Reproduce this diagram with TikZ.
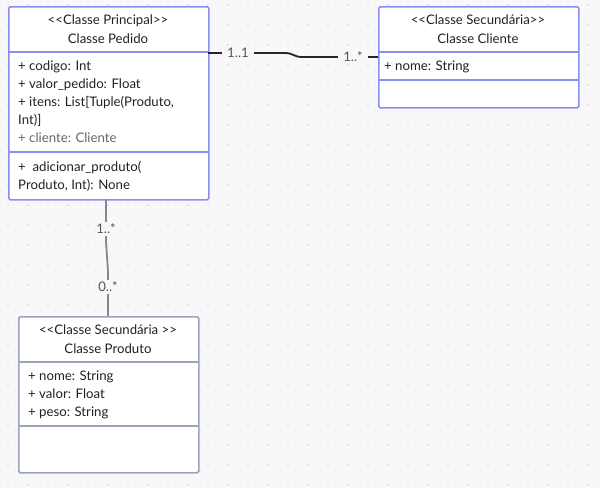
\documentclass[tikz,border=0pt]{standalone}
\usepackage{fontspec}
\setmainfont{Lato}
\definecolor{bg}{HTML}{F8F8FA}
\definecolor{dotc}{HTML}{D6D6DC}
\definecolor{mainb}{HTML}{8A8EF0}
\definecolor{secb}{HTML}{9AA4BC}
\definecolor{txt}{HTML}{222222}
\definecolor{faint}{HTML}{666666}
\definecolor{lbl}{HTML}{555555}
\definecolor{grayline}{HTML}{888888}
\tikzset{
  box/.style={draw, line width=1.6pt, fill=white, rounded corners=1.5pt, inner sep=0pt, anchor=north west},
  divider/.style={line width=1.6pt},
  hdr/.style={align=center, font=\fontsize{13.2}{18.5}\selectfont, text=txt, inner sep=0pt},
  attr/.style={align=left, anchor=north west, font=\fontsize{13.2}{18}\selectfont, text=txt, inner sep=0pt},
  mult/.style={fill=bg, text=lbl, font=\fontsize{13.2}{15}\selectfont, inner xsep=5pt, inner ysep=2pt},
  conn/.style={line width=1.8pt},
}
\begin{document}
\begin{tikzpicture}[x=1pt,y=-1pt]
\fill[bg] (0,0) rectangle (600,488);
\useasboundingbox (0,0) rectangle (600,488);
\foreach \i in {8,28,...,588}{\foreach \j in {5,25,...,485}{\fill[dotc] (\i,\j) circle (0.9);}}
% Pedido
\node[box, draw=mainb, minimum width=200pt, minimum height=193pt] (pedido) at (8,6) {};
\draw[divider, mainb] (8,52) -- (208,52);
\draw[divider, mainb] (8,152) -- (208,152);
\node[hdr] (pedidoh) at (108,29) {{<}{<}Classe Principal{>}{>}\\Classe Pedido};
\node[attr] (pedidoa) at (18,61) {+ codigo: Int\\+ valor\_pedido: Float\\+ itens: List[Tuple(Produto,\\Int)]\\\textcolor{faint}{+ cliente: Cliente}};
\node[attr] (pedidom) at (18,161) {+\ \ adicionar\_produto(\\Produto, Int): None};
% Cliente
\node[box, draw=mainb, minimum width=200pt, minimum height=101pt] (cliente) at (378,6) {};
\draw[divider, mainb] (378,52) -- (578,52);
\draw[divider, mainb] (378,80) -- (578,80);
\node[hdr] (clienteh) at (478,29) {{<}{<}Classe Secundária{>}{>}\\Classe Cliente};
\node[attr] (clientea) at (384,61) {+ nome: String};
% Produto
\node[box, draw=secb, minimum width=180pt, minimum height=156pt] (produto) at (18,316) {};
\draw[divider, secb] (18,362) -- (198,362);
\draw[divider, secb] (18,426) -- (198,426);
\node[hdr] (produtoh) at (108,339) {{<}{<}Classe Secundária {>}{>}\\Classe Produto};
\node[attr] (produtoa) at (28,371) {+ nome: String\\+ valor: Float\\+ peso: String};
% connectors
\coordinate (c1) at (208,53);
\coordinate (c2) at (378,57);
\draw[conn, black!85] (c1) -- (285,53) .. controls (293,53) and (294,57) .. (302,57) -- (c2);
\node[mult] (m1) at (238,53) {1..1};
\node[mult] (m2) at (353,57) {1..*};
\coordinate (d1) at (106,199);
\coordinate (d2) at (108,316);
\draw[conn, grayline] (d1) -- (106,242) -- (108,271) -- (d2);
\node[mult] (m3) at (106,229) {1..*};
\node[mult] (m4) at (108,287) {0..*};
\end{tikzpicture}
\end{document}
